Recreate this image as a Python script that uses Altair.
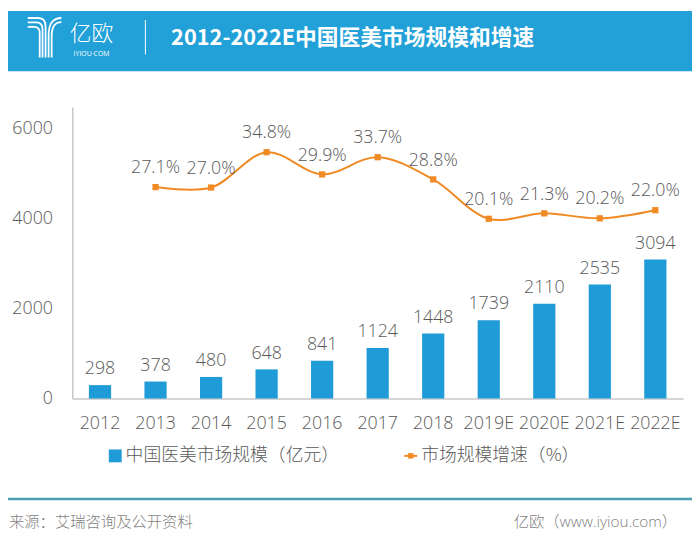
import altair as alt
import pandas as pd

# ---------------- data ----------------
years = ["2012", "2013", "2014", "2015", "2016", "2017", "2018",
         "2019E", "2020E", "2021E", "2022E"]
market_size = [298, 378, 480, 648, 841, 1124, 1448, 1739, 2110, 2535, 3094]
growth_rate = [None, 27.1, 27.0, 34.8, 29.9, 33.7, 28.8, 20.1, 21.3, 20.2, 22.0]
y_ticks = [0, 2000, 4000, 6000]

title_text = "2012-2022E中国医美市场规模和增速"
brand_cn = "亿欧"
brand_en = "IYIOU·COM"
legend_bar = "中国医美市场规模（亿元）"
legend_line = "市场规模增速（%）"
source_text = "来源：艾瑞咨询及公开资料"
site_text = "亿欧（www.iyiou.com）"

# ---------------- style ----------------
FONT = "Open Sans, Noto Sans CJK SC, sans-serif"
CJK = "Noto Sans CJK SC, sans-serif"
BLUE = "#1F9BD7"
HEADER = "#22A0D8"
ORANGE = "#F08A24"
TXT = "#595959"
AXIS = "#C8C8C8"

df = pd.DataFrame({"year": years, "size": market_size, "growth": growth_rate})
one = pd.DataFrame({"k": [0]})

x_enc = alt.X(
    "year:N", sort=years,
    scale=alt.Scale(paddingInner=0.6, paddingOuter=0.3),
    axis=alt.Axis(title=None, labelAngle=0, ticks=False, grid=False,
                  domainColor=AXIS, domainWidth=1.5, labelFont=FONT,
                  labelFontSize=18, labelFontWeight=300, labelColor=TXT,
                  labelPadding=16),
)

y_bar = alt.Y(
    "size:Q",
    scale=alt.Scale(domain=[0, 6484], nice=False, zero=True),
    axis=alt.Axis(values=y_ticks, format="d", title=None, ticks=False,
                  grid=False, domainColor=AXIS, domainWidth=1.5,
                  labelFont=FONT, labelFontSize=18, labelFontWeight=300,
                  labelColor=TXT, labelPadding=20),
)

bars = alt.Chart(df).mark_bar(color=BLUE).encode(x=x_enc, y=y_bar)
bar_text = alt.Chart(df).mark_text(
    baseline="alphabetic", dy=-11, font=FONT, fontSize=18,
    fontWeight=300, color=TXT
).encode(x=alt.X("year:N", sort=years), y=alt.Y("size:Q"), text="size:Q")
bar_layer = alt.layer(bars, bar_text)

y_line = alt.Y("growth:Q",
               scale=alt.Scale(domain=[-19.6, 44.8], nice=False, zero=False),
               axis=None)
gdf = df[df["growth"].notna()]
line = alt.Chart(gdf).mark_line(
    color=ORANGE, strokeWidth=2, interpolate="catmull-rom"
).encode(x=alt.X("year:N", sort=years), y=y_line)
pts = alt.Chart(gdf).mark_point(
    shape="square", filled=True, size=40, color=ORANGE, opacity=1
).encode(x=alt.X("year:N", sort=years), y=y_line)
pct_text = alt.Chart(gdf).transform_calculate(
    label="format(datum.growth, '.1f') + '%'"
).mark_text(
    baseline="alphabetic", dy=-14, font=FONT, fontSize=18,
    fontWeight=300, color=TXT
).encode(x=alt.X("year:N", sort=years), y=y_line, text="label:N")
line_layer = alt.layer(line, pts, pct_text)

main = alt.layer(bar_layer, line_layer).resolve_scale(y="independent")

# ---------------- decorations (header / legend / footer) ----------------
header = alt.Chart(one).mark_rect(color=HEADER).encode(
    x=alt.value(-65), x2=alt.value(627), y=alt.value(-97), y2=alt.value(-36))

LOGO = ("M -0.83 -0.95 L -0.3 -0.95 Q 0.05 -0.95 0.05 -0.5 L 0.05 1 "
        "M -0.83 -0.73 L -0.42 -0.73 Q -0.1 -0.73 -0.1 -0.4 L -0.1 1 "
        "M -0.83 -0.51 L -0.52 -0.51 Q -0.24 -0.51 -0.24 -0.22 L -0.24 1 "
        "M 0.83 -0.95 Q 0.2 -0.95 0.2 -0.1 L 0.2 1 "
        "M 0.83 -0.75 Q 0.35 -0.75 0.35 -0.05 L 0.35 1")
logo = alt.Chart(one).mark_point(
    shape=LOGO, filled=False, stroke="white", strokeWidth=1.8, size=1681,
    opacity=1
).encode(x=alt.value(-28), y=alt.value(-70.5))

brand1 = alt.Chart(one).mark_text(
    text=brand_cn, font=CJK, fontSize=22, fontWeight=300, color="white",
    align="center", baseline="middle"
).encode(x=alt.value(19.5), y=alt.value(-74))
brand2 = alt.Chart(one).mark_text(
    text=brand_en, font=FONT, fontSize=7, color="white",
    align="center", baseline="middle"
).encode(x=alt.value(19.5), y=alt.value(-54))
divider = alt.Chart(one).mark_rule(color="white", strokeWidth=1).encode(
    x=alt.value(74), y=alt.value(-88), y2=alt.value(-53))
title = alt.Chart(one).mark_text(
    text=title_text, font=CJK, fontSize=22, fontWeight="bold", color="white",
    align="left", baseline="middle"
).encode(x=alt.value(100), y=alt.value(-70))

leg_sq = alt.Chart(one).mark_point(
    shape="square", filled=True, size=169, color=BLUE, opacity=1
).encode(x=alt.value(43.5), y=alt.value(353))
leg_t1 = alt.Chart(one).mark_text(
    text=legend_bar, font=CJK, fontSize=18, fontWeight=300, color=TXT,
    align="left", baseline="middle"
).encode(x=alt.value(54), y=alt.value(353))
leg_rule = alt.Chart(one).mark_rule(color=ORANGE, strokeWidth=2).encode(
    x=alt.value(336), x2=alt.value(349), y=alt.value(353))
leg_pt = alt.Chart(one).mark_point(
    shape="square", filled=True, size=30, color=ORANGE, opacity=1
).encode(x=alt.value(342.5), y=alt.value(353))
leg_t2 = alt.Chart(one).mark_text(
    text=legend_line, font=CJK, fontSize=18, fontWeight=300, color=TXT,
    align="left", baseline="middle"
).encode(x=alt.value(353), y=alt.value(353))

foot_line = alt.Chart(one).mark_rule(color="#4BA0B5", strokeWidth=2.5).encode(
    x=alt.value(-65), x2=alt.value(627), y=alt.value(396.7))
foot_l = alt.Chart(one).mark_text(
    text=source_text, font=CJK, fontSize=15.5, fontWeight=300, color="#7F7F7F",
    align="left", baseline="middle"
).encode(x=alt.value(-64), y=alt.value(420))
foot_r = alt.Chart(one).mark_text(
    text=site_text, font=FONT, fontSize=15.5, fontWeight=300, color="#7F7F7F",
    align="right", baseline="middle"
).encode(x=alt.value(612), y=alt.value(420))

chart = alt.layer(
    main, header, logo, brand1, brand2, divider, title,
    leg_sq, leg_t1, leg_rule, leg_pt, leg_t2, foot_line, foot_l, foot_r
).properties(
    width=618, height=295,
    padding={"left": 65, "top": 97, "right": 9, "bottom": 139},
    autosize=alt.AutoSizeParams(type="none"),
).configure_view(stroke=None)

chart.save("out.html", embed_options={"renderer": "svg", "actions": False})
